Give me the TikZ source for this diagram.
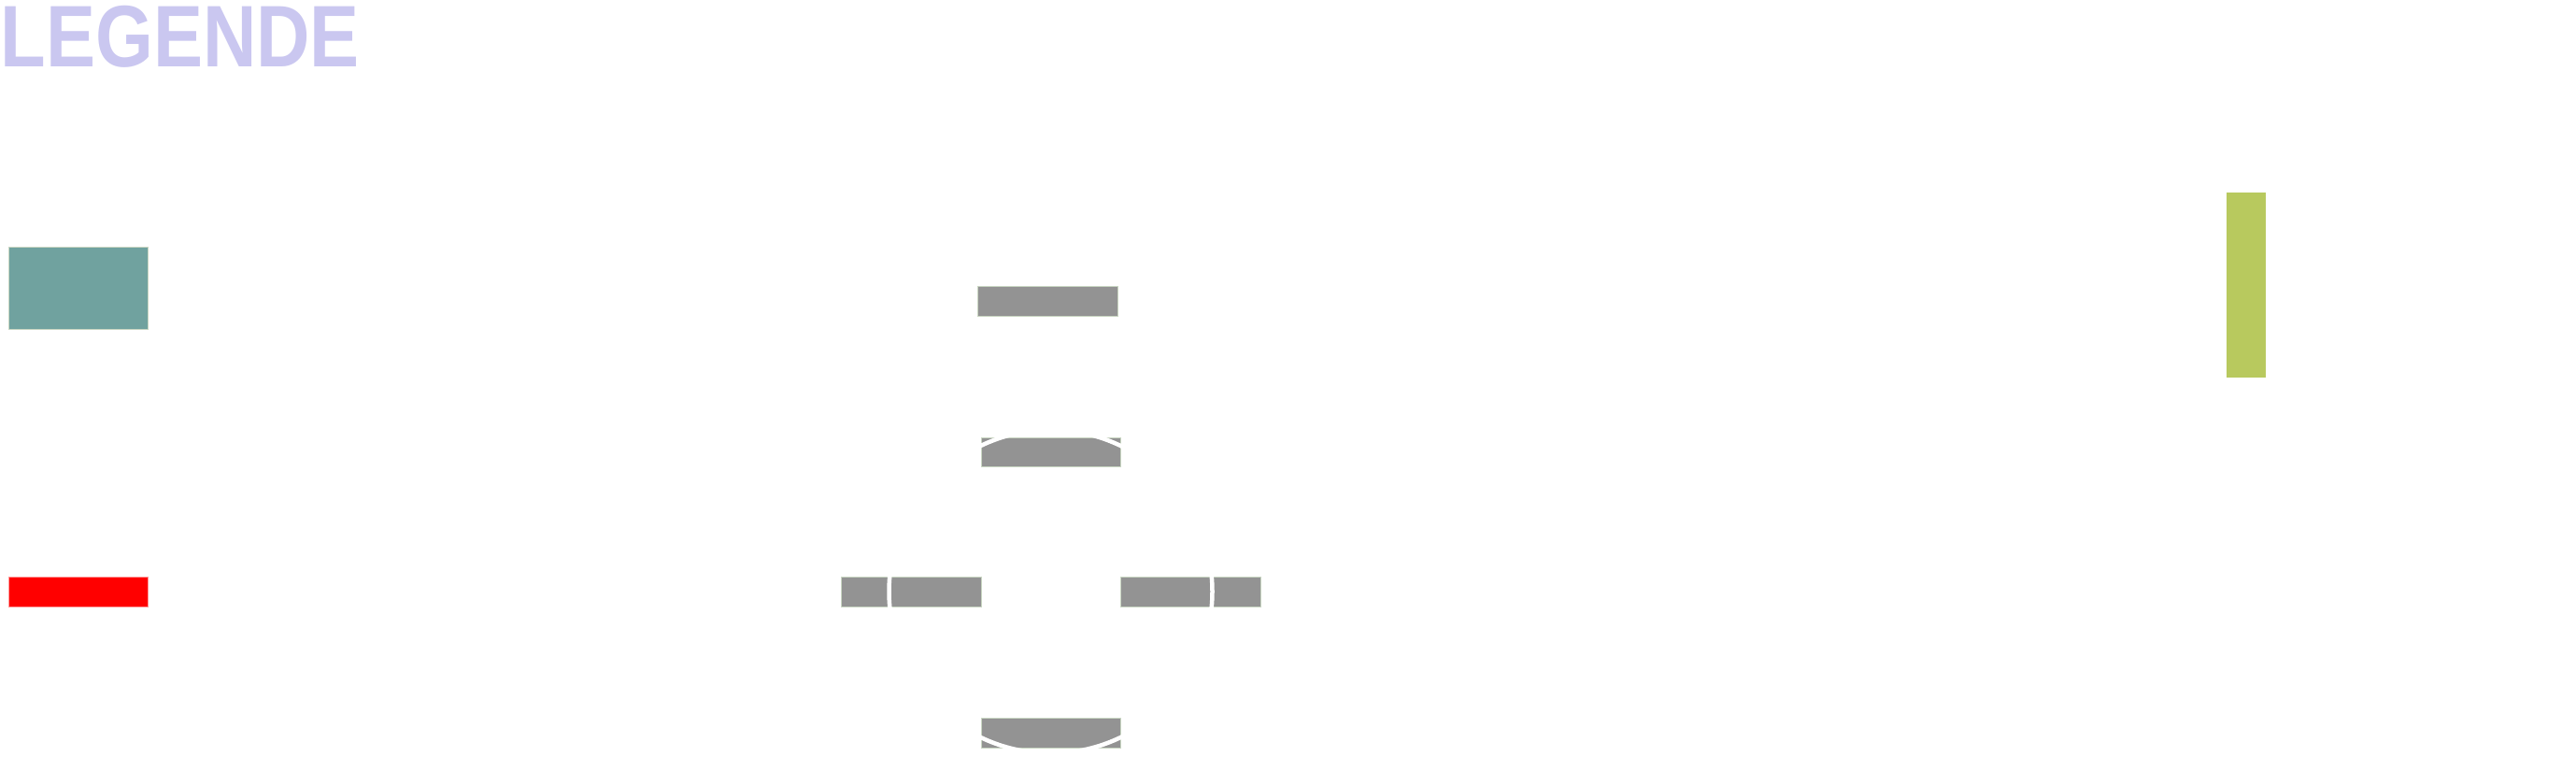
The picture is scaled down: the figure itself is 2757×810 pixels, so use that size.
\documentclass[tikz,border=0pt]{standalone}
\usepackage{fontspec}
\setmainfont{Liberation Sans}
\definecolor{titlecol}{HTML}{CAC7F0}
\definecolor{tealcol}{HTML}{70A29F}
\definecolor{graycol}{HTML}{939393}
\definecolor{greencol}{HTML}{B8C95E}
\definecolor{redcol}{HTML}{FF0000}
\definecolor{edgecol}{HTML}{C9D6C2}
\begin{document}
\begin{tikzpicture}[x=0.01cm,y=-0.01cm,
  blk/.style={rectangle, inner sep=0pt, outer sep=0pt, draw=edgecol, line width=0.008cm},
  lbl/.style={anchor=base west, inner sep=0pt, text=white,
    font=\fontsize{24.75pt}{28.74pt}\selectfont, align=left},
  rim/.style={draw=white, line width=0.045cm}]
\useasboundingbox[fill=white] (0,0) rectangle (2757,810);
% title
\node[anchor=base west, inner sep=0pt, text=titlecol,
  font=\fontsize{26.6pt}{30pt}\selectfont\bfseries, xscale=0.85] (title) at (0,72) {LEGENDE};
% breakable blocks
\node[blk, fill=tealcol, minimum width=1.49cm, minimum height=0.88cm] (breakable) at (83.5,308) {};
\node[lbl] (breakabletxt) at (215,332) {Breakable blocks};
% one-way platform
\node[blk, fill=graycol, minimum width=1.50cm, minimum height=0.32cm] (oneway) at (1121,322) {};
\node[lbl] (onewaytxt) at (1235,335) {One-way platform};
% doors
\node[blk, fill=greencol, draw=none, minimum width=0.42cm, minimum height=1.98cm] (door) at (2404,305) {};
\node[lbl] (doortxt) at (2518,332) {Doors};
% trap
\node[blk, fill=redcol, draw=red!40, minimum width=1.49cm, minimum height=0.32cm] (trap) at (83.5,633) {};
\node[lbl] (traptxt) at (215,658) {Trap};
% ferris wheel
\coordinate (hub) at (1124.5,633);
\node[blk, fill=graycol, minimum width=1.49cm, minimum height=0.31cm] (cabtop) at (1124.5,483.5) {};
\node[blk, fill=graycol, minimum width=1.50cm, minimum height=0.32cm] (cableft) at (975,633) {};
\node[blk, fill=graycol, minimum width=1.50cm, minimum height=0.32cm] (cabright) at (1274,633) {};
\node[blk, fill=graycol, minimum width=1.49cm, minimum height=0.32cm] (cabbottom) at (1124.5,784) {};
\draw[rim] (hub) circle[radius=173];
\node[lbl] (wheeltxt) at (1455,652) {Ferris wheel\\turning};
\end{tikzpicture}
\end{document}
